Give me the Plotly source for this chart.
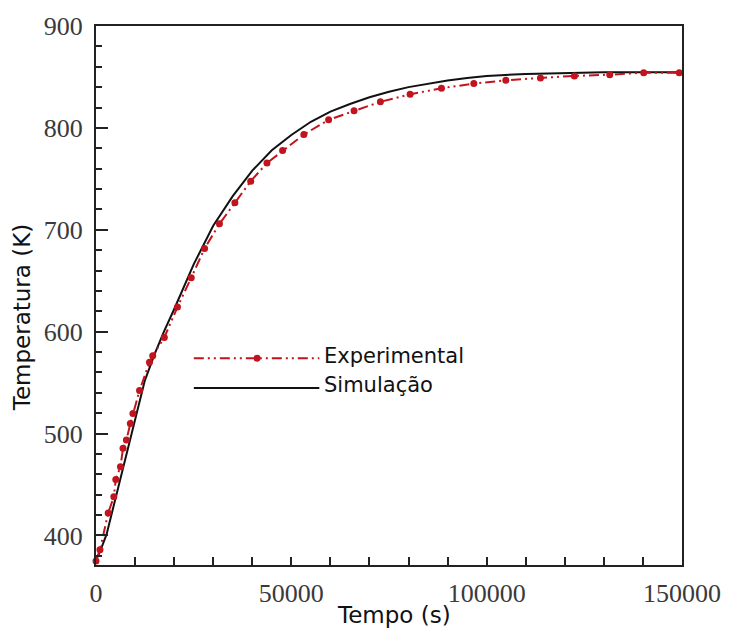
import plotly.graph_objects as go

# Experimental data (time in s, temperature in K)
exp_time = [0, 1013, 3117, 4561, 5068, 6258, 6917, 7779, 8792, 9451, 11149, 13682,
            14518, 17483, 20853, 24375, 27795, 31596, 35549, 39603, 43759, 47762,
            53210, 59544, 66056, 72796, 80398, 88430, 96715, 104899, 113768,
            122458, 131505, 140196, 149300]
exp_temp = [375, 386, 422, 438, 455, 467.5, 485.5, 493.6, 509.8, 519.6, 542.3, 569.9,
            576.4, 594.3, 624.2, 652.9, 681.7, 705.8, 726.5, 747.7, 765.5, 777.7,
            793.5, 807.9, 816.9, 825.6, 833.0, 838.9, 843.5, 846.7, 849.0,
            851.0, 852.2, 854.2, 854.2]

# Simulation data
sim_time = [0, 1000, 2700, 5000, 7500, 10000, 12500, 15000, 17500, 20000, 25000,
            30000, 35000, 40000, 45000, 50000, 55000, 60000, 65000, 70000, 75000,
            80000, 85000, 90000, 95000, 100000, 110000, 120000, 130000, 140000, 150000]
sim_temp = [376, 384, 401, 437, 475, 514, 552, 578, 601, 622, 666,
            704, 733, 758, 778, 793, 806, 816, 823.5, 830, 835.5,
            840, 843.5, 846.5, 849, 851, 853, 854, 854.5, 854.5, 854.5]

x_tickvals = [0, 50000, 100000, 150000]
x_ticktext = ["0", "50000", "100000", "150000"]
y_tickvals = [400, 500, 600, 700, 800, 900]
y_ticktext = ["400", "500", "600", "700", "800", "900"]

RED = "#c0141e"
DASH = "10px,4px,2px,4px,2px,4px"

fig = go.Figure()
fig.add_trace(go.Scatter(x=sim_time, y=sim_temp, mode="lines",
                         line=dict(color="#111111", width=2), name="Simulação",
                         showlegend=False))
fig.add_trace(go.Scatter(x=exp_time, y=exp_temp, mode="lines+markers",
                         line=dict(color=RED, width=2, dash=DASH),
                         marker=dict(color=RED, size=7, symbol="circle"),
                         name="Experimental", showlegend=False, cliponaxis=False))

tickfont = dict(family="Liberation Serif", size=26, color="#3a3a3a")
fig.update_xaxes(range=[0, 150000], tickvals=x_tickvals, ticktext=x_ticktext,
                 ticks="inside", ticklen=8, tickwidth=1.5, tickcolor="#222",
                 minor=dict(dtick=10000, ticks="inside", ticklen=8, tickwidth=1.5, tickcolor="#222"),
                 showline=True, linewidth=2, linecolor="#222", mirror=True,
                 showgrid=False, zeroline=False, tickfont=tickfont, ticklabelstandoff=4)
fig.update_yaxes(range=[371, 900], tickvals=y_tickvals, ticktext=y_ticktext,
                 ticks="inside", ticklen=12, tickwidth=2, tickcolor="#222",
                 minor=dict(dtick=20, tick0=400, ticks="inside", ticklen=6, tickwidth=1.5, tickcolor="#222"),
                 showline=True, linewidth=2, linecolor="#222", mirror=True,
                 showgrid=False, zeroline=False, tickfont=tickfont, ticklabelstandoff=6)

L, R, T, B = 96, 44, 23, 65
W, H = 733, 630
pw, ph = W - L - R, H - T - B

def px(xp):
    return (xp - L) / pw

def py(yp):
    return 1 - (yp - T) / ph

# manual legend
shapes = [
    dict(type="line", xref="paper", yref="paper", x0=px(195), x1=px(322), y0=py(357), y1=py(357),
         line=dict(color=RED, width=2, dash=DASH)),
    dict(type="circle", xref="paper", yref="paper", x0=px(255.5), x1=px(262.5), y0=py(353.5), y1=py(360.5),
         fillcolor=RED, line=dict(color=RED, width=0)),
    dict(type="line", xref="paper", yref="paper", x0=px(195), x1=px(322), y0=py(387), y1=py(387),
         line=dict(color="#111111", width=2)),
]
legfont = dict(family="DejaVu Sans", size=21, color="#111")
titlefont = dict(family="DejaVu Sans", size=23, color="#111")
annotations = [
    dict(text="Experimental", xref="paper", yref="paper", x=px(325), y=py(355),
         xanchor="left", yanchor="middle", showarrow=False, font=legfont),
    dict(text="Simulação", xref="paper", yref="paper", x=px(325), y=py(384),
         xanchor="left", yanchor="middle", showarrow=False, font=legfont),
    dict(text="Tempo (s)", xref="paper", yref="paper", x=px(398), y=py(615),
         xanchor="center", yanchor="middle", showarrow=False, font=titlefont),
    dict(text="Temperatura (K)", xref="paper", yref="paper", x=px(22), y=py(316),
         xanchor="center", yanchor="middle", showarrow=False, font=titlefont, textangle=-90),
]

fig.update_layout(width=W, height=H, margin=dict(l=L, r=R, t=T, b=B),
                  plot_bgcolor="white", paper_bgcolor="white",
                  shapes=shapes, annotations=annotations, showlegend=False)

fig.write_html("out.html", config={"displayModeBar": False},
               post_script="document.body.style.margin='0px';document.body.style.overflow='hidden';")
